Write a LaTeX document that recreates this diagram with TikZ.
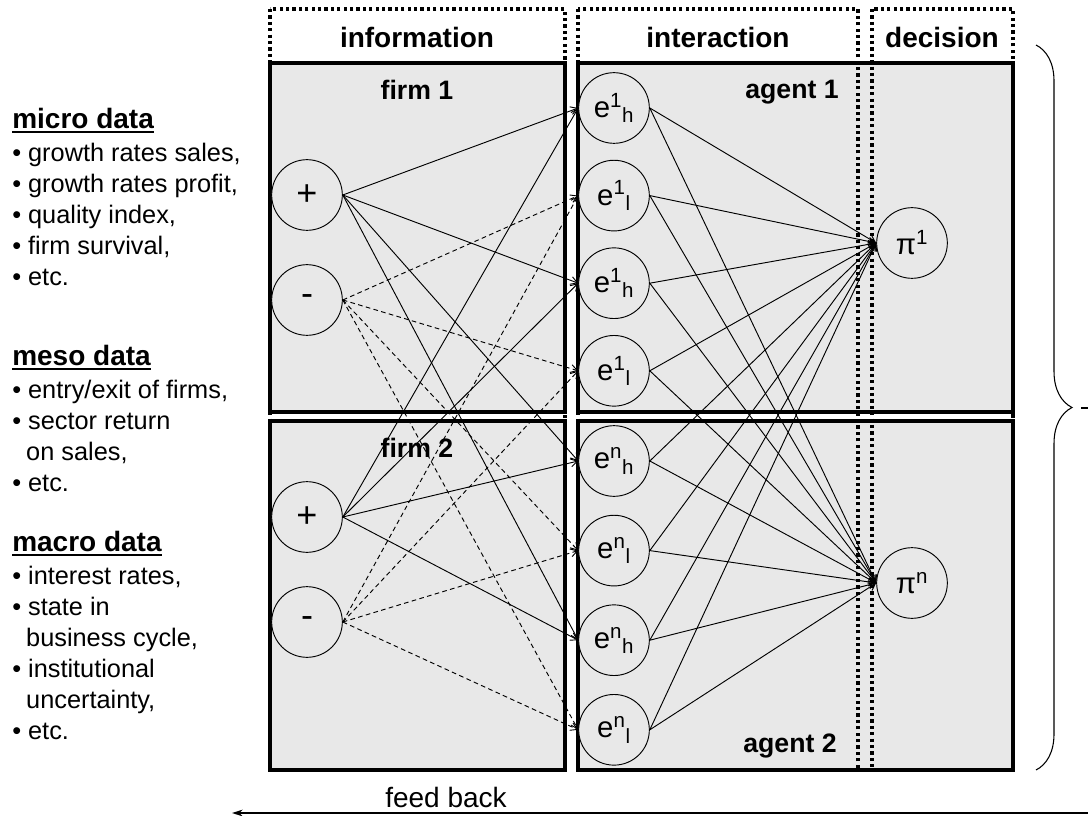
\documentclass[tikz,border=0pt]{standalone}
\usepackage{fontspec}
\setmainfont{Liberation Sans}
\usetikzlibrary{arrows,arrows.meta,shapes,positioning,decorations.pathreplacing}
\definecolor{boxgray}{RGB}{232,232,232}
\newcommand{\thickul}[1]{\leavevmode\vtop{\hbox{#1}\kern1.5pt\hrule height 1.8pt}}
\tikzstyle{arrow} = [->,>={Straight Barb[length=5pt,width=6pt]},line width=0.7pt,color=black]
\tikzstyle{dasharrow} = [arrow, dash pattern=on 3.5pt off 2.5pt]
\tikzstyle{feedback} = [->,>={Stealth[length=8pt,width=5pt]},line width=2.2pt]
\tikzstyle{column} = [line width=2.4pt, dash pattern=on 2.4pt off 2.4pt]
\tikzstyle{panel} = [fill=boxgray, draw=black, line width=2.6pt]
\tikzstyle{signal} = [circle, draw, fill=boxgray, line width=0.7pt, minimum size=53pt, inner sep=0pt, font=\fontsize{22}{26}\selectfont]
\tikzstyle{sign} = [signal, font=\fontsize{27}{30}\selectfont]
\tikzstyle{title} = [font=\fontsize{21}{25}\selectfont\bfseries]
\tikzstyle{boxlabel} = [font=\fontsize{20}{24}\selectfont\bfseries]
\tikzstyle{datalist} = [align=left, inner sep=0pt, font=\fontsize{19}{23.2}\selectfont]

\begin{document}
\begin{tikzpicture}[x=0.75pt,y=-0.75pt,node distance=12pt]
\useasboundingbox (0,0) rectangle (1088,816);

% panels
\draw[panel] (270,63) rectangle (565,412);
\draw[panel] (270,421) rectangle (565,770);
\draw[panel] (578,63) rectangle (1013,412);
\draw[panel] (578,421) rectangle (1013,770);

% columns
\draw[column] (270,9) rectangle (565,770);
\draw[column] (578,9) rectangle (858,770);
\draw[column] (872,9) rectangle (1013,770);
\node[title] (hinfo) at (417,37) {information};
\node[title] (hinter) at (718,37) {interaction};
\node[title] (hdec) at (942,37) {decision};

\node[boxlabel] (firm1) at (417,90) {firm 1};
\node[boxlabel] (firm2) at (417,448) {firm 2};
\node[boxlabel] (agent1) at (792,92) {agent 1};
\node[boxlabel] (agent2) at (790,746) {agent 2};

% information nodes
\node[sign] (p1) at (307,195) {+};
\node[sign] (m1) at (307,300) {-};
\node[sign] (p2) at (307,517) {+};
\node[sign] (m2) at (307,622) {-};

% expectations
\node[signal] (e1) at (614,108) {e\textsuperscript{1}\textsubscript{h}};
\node[signal, below=of e1] (e2) {e\textsuperscript{1}\textsubscript{l}};
\node[signal, below=of e2] (e3) {e\textsuperscript{1}\textsubscript{h}};
\node[signal, below=of e3] (e4) {e\textsuperscript{1}\textsubscript{l}};
\node[signal] (e5) at (614,461) {e\textsuperscript{n}\textsubscript{h}};
\node[signal, below=13.5pt of e5] (e6) {e\textsuperscript{n}\textsubscript{l}};
\node[signal, below=13.5pt of e6] (e7) {e\textsuperscript{n}\textsubscript{h}};
\node[signal, below=13.5pt of e7] (e8) {e\textsuperscript{n}\textsubscript{l}};

% decisions
\node[signal] (pi1) at (912,243) {π\textsuperscript{1}};
\node[signal] (pin) at (912,583) {π\textsuperscript{n}};

\foreach \s in {p1,p2}
  \foreach \t in {e1,e3,e5,e7}
    \draw[arrow] (\s.east) -- (\t.west);
\foreach \s in {m1,m2}
  \foreach \t in {e2,e4,e6,e8}
    \draw[dasharrow] (\s.east) -- (\t.west);
\foreach \i in {1,...,8} {
  \draw[arrow] (e\i.east) -- (pi1.west);
  \draw[arrow] (e\i.east) -- (pin.west);
}

% data sources
\node[title, anchor=west, inner sep=0pt] (micro) at (12,121) {\thickul{micro data}};
\node[datalist, below=7pt of micro.south west, anchor=north west] (microlist)
  {• growth rates sales,\\• growth rates profit,\\• quality index,\\• firm survival,\\• etc.};
\node[title, anchor=west, inner sep=0pt] (meso) at (12,358) {\thickul{meso data}};
\node[datalist, below=7pt of meso.south west, anchor=north west] (mesolist)
  {• entry/exit of firms,\\• sector return\\\hspace*{0.55em}on sales,\\• etc.};
\node[title, anchor=west, inner sep=0pt] (macro) at (12,544) {\thickul{macro data}};
\node[datalist, below=7pt of macro.south west, anchor=north west] (macrolist)
  {• interest rates,\\• state in\\\hspace*{0.55em}business cycle,\\• institutional\\\hspace*{0.55em}uncertainty,\\• etc.};

% brace and feed back
\coordinate (btop) at (1036,45);
\coordinate (bbot) at (1036,770);
\draw[decorate, decoration={brace, amplitude=27pt}, line width=0.8pt] (btop) -- (bbot);
\coordinate (stubL) at (1081,408);
\coordinate (stubR) at (1088,408);
\draw[line width=1.2pt] (stubL) -- (stubR);
\coordinate (fbR) at (1088,813);
\coordinate (fbL) at (232,813);
\draw[feedback] (fbR) -- node[pos=0.75, above=3pt, datalist, font=\fontsize{21}{25}\selectfont] (fbtext) {feed back} (fbL);
\end{tikzpicture}
\end{document}
